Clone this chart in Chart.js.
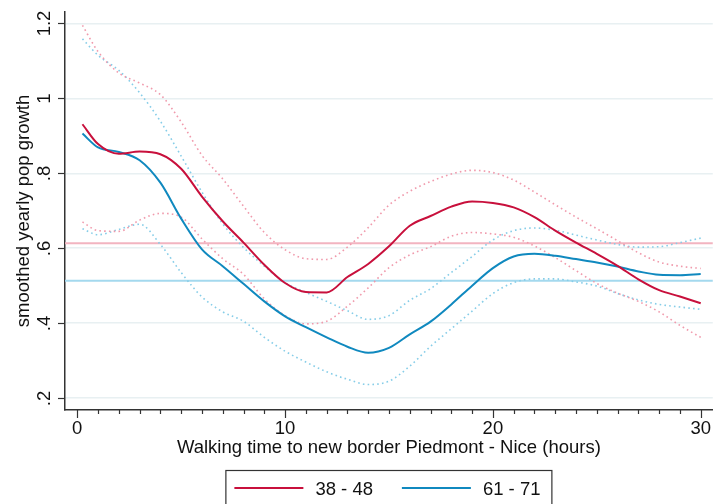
<!DOCTYPE html>
<html>
<head>
<meta charset="utf-8">
<script src="https://cdn.jsdelivr.net/npm/chart.js@4.4.1/dist/chart.umd.min.js"></script>
<style>
  body { margin: 0; background: #fff; }
  #wrap { width: 713px; height: 504px; }
</style>
</head>
<body>
<div id="wrap"><canvas id="chart"></canvas></div>
<script>
// x grid (walking time, hours)
const xs = [0.25, 1, 2, 3, 4, 5, 6, 7, 8, 9, 10, 11, 12, 13, 14, 15, 16, 17, 18, 19, 20, 21, 22, 23, 24, 25, 26, 27, 28, 29, 30];

// 38 - 48
const red = [0.931, 0.878, 0.852, 0.858, 0.851, 0.812, 0.738, 0.672, 0.615, 0.556, 0.507, 0.483, 0.482, 0.523, 0.558, 0.605, 0.660, 0.686, 0.711, 0.725, 0.721, 0.709, 0.683, 0.647, 0.615, 0.585, 0.553, 0.517, 0.488, 0.471, 0.453];
const redHi = [1.195, 1.125, 1.068, 1.041, 1.010, 0.937, 0.848, 0.785, 0.712, 0.642, 0.596, 0.572, 0.570, 0.603, 0.655, 0.715, 0.752, 0.778, 0.798, 0.808, 0.802, 0.782, 0.750, 0.716, 0.683, 0.652, 0.620, 0.588, 0.563, 0.552, 0.546];
const redLo = [0.670, 0.647, 0.645, 0.675, 0.693, 0.683, 0.625, 0.572, 0.530, 0.465, 0.420, 0.398, 0.405, 0.445, 0.494, 0.548, 0.582, 0.604, 0.632, 0.642, 0.638, 0.629, 0.606, 0.575, 0.540, 0.506, 0.480, 0.458, 0.430, 0.394, 0.362];

// 61 - 71
const blue = [0.906, 0.869, 0.857, 0.835, 0.775, 0.679, 0.597, 0.552, 0.505, 0.458, 0.418, 0.389, 0.362, 0.337, 0.321, 0.334, 0.370, 0.404, 0.450, 0.500, 0.547, 0.578, 0.585, 0.580, 0.571, 0.562, 0.551, 0.538, 0.529, 0.528, 0.531];
const blueHi = [1.159, 1.115, 1.075, 1.015, 0.939, 0.846, 0.750, 0.665, 0.602, 0.552, 0.508, 0.482, 0.458, 0.433, 0.410, 0.420, 0.461, 0.492, 0.535, 0.578, 0.622, 0.647, 0.654, 0.648, 0.635, 0.622, 0.610, 0.603, 0.604, 0.615, 0.627];
const blueLo = [0.652, 0.636, 0.650, 0.664, 0.610, 0.535, 0.470, 0.430, 0.405, 0.362, 0.325, 0.296, 0.270, 0.250, 0.236, 0.245, 0.285, 0.338, 0.385, 0.432, 0.479, 0.508, 0.518, 0.518, 0.510, 0.499, 0.479, 0.462, 0.450, 0.443, 0.437];

// mean lines for each group
const refLines = [0.613, 0.513];

const xTicks = [0, 10, 20, 30];
const yTicks = [0.2, 0.4, 0.6, 0.8, 1, 1.2];
const yTickLabels = [".2", ".4", ".6", ".8", "1", "1.2"];

const redColor = "#c8103c";
const blueColor = "#1089bf";
const redCI = "#f09aac";
const blueCI = "#86cde8";
const refColors = ["#f2b4c0", "#a4d9ee"];
const axisColor = "#333333";
const font = "'Liberation Sans', Arial, Helvetica, sans-serif";
const fontSize = 18.5;

function pts(arr) {
  return xs.map((x, i) => ({ x: x, y: arr[i] }));
}

function mainLine(label, arr, color) {
  return {
    label: label,
    data: pts(arr),
    borderColor: color,
    backgroundColor: color,
    borderWidth: 2,
    pointRadius: 0,
    cubicInterpolationMode: "monotone",
  };
}

function ciLine(arr, color) {
  return {
    label: "",
    data: pts(arr),
    borderColor: color,
    borderWidth: 1.6,
    borderDash: [1.6, 3.2],
    pointRadius: 0,
    cubicInterpolationMode: "monotone",
  };
}

// draws reference lines, tick marks, rotated y labels and the boxed legend
const stataPlugin = {
  id: "stata",
  beforeDatasetsDraw(chart) {
    const { ctx, chartArea, scales } = chart;
    ctx.save();
    refLines.forEach((v, i) => {
      const py = scales.y.getPixelForValue(v);
      ctx.strokeStyle = refColors[i];
      ctx.lineWidth = 2;
      ctx.beginPath();
      ctx.moveTo(chartArea.left, py);
      ctx.lineTo(chartArea.right, py);
      ctx.stroke();
    });
    ctx.restore();
  },
  afterDraw(chart) {
    const { ctx, chartArea, scales } = chart;
    const x = scales.x;
    const y = scales.y;
    ctx.save();
    ctx.strokeStyle = axisColor;
    ctx.lineWidth = 1.2;

    // x ticks, long at labelled values
    x.ticks.forEach((t) => {
      const px = Math.round(x.getPixelForValue(t.value)) + 0.5;
      const len = xTicks.includes(t.value) ? 8 : 4;
      ctx.beginPath();
      ctx.moveTo(px, chartArea.bottom);
      ctx.lineTo(px, chartArea.bottom + len);
      ctx.stroke();
    });

    // y ticks and rotated labels
    ctx.fillStyle = "#111";
    ctx.font = fontSize + "px " + font;
    ctx.textAlign = "center";
    ctx.textBaseline = "alphabetic";
    yTicks.forEach((v, i) => {
      const py = Math.round(y.getPixelForValue(v)) + 0.5;
      ctx.beginPath();
      ctx.moveTo(chartArea.left, py);
      ctx.lineTo(chartArea.left - 7, py);
      ctx.stroke();
      ctx.save();
      ctx.translate(50, py);
      ctx.rotate(-Math.PI / 2);
      ctx.fillText(yTickLabels[i], 0, 0);
      ctx.restore();
    });

    // legend
    const cx = (chartArea.left + chartArea.right) / 2;
    const left = cx - 163;
    const top = 470.5;
    ctx.strokeStyle = axisColor;
    ctx.lineWidth = 1.2;
    ctx.strokeRect(left, top, 326, 60);
    const entries = chart.data.datasets.slice(0, 2);
    const offs = [8.5, 176];
    entries.forEach((ds, i) => {
      const lx = left + offs[i];
      ctx.strokeStyle = ds.borderColor;
      ctx.lineWidth = 2;
      ctx.beginPath();
      ctx.moveTo(lx, 488);
      ctx.lineTo(lx + 69, 488);
      ctx.stroke();
      ctx.textAlign = "left";
      ctx.fillStyle = "#111";
      ctx.fillText(ds.label, lx + 81, 495);
    });
    ctx.restore();
  },
};

new Chart(document.getElementById("chart"), {
  type: "line",
  data: {
    datasets: [
      mainLine("38 - 48", red, redColor),
      mainLine("61 - 71", blue, blueColor),
      ciLine(redHi, redCI),
      ciLine(redLo, redCI),
      ciLine(blueHi, blueCI),
      ciLine(blueLo, blueCI),
    ],
  },
  options: {
    responsive: true,
    maintainAspectRatio: false,
    animation: false,
    devicePixelRatio: 1,
    layout: { padding: { top: 12, left: 0, right: 0, bottom: 0 } },
    plugins: {
      legend: { display: false },
      tooltip: { enabled: false },
    },
    scales: {
      x: {
        type: "linear",
        min: -0.59,
        max: 30.58,
        afterBuildTicks: (scale) => {
          const t = [];
          for (let v = 0; v <= 30; v++) t.push({ value: v });
          scale.ticks = t;
        },
        afterFit: (scale) => {
          scale.height = 94;
        },
        grid: {
          drawOnChartArea: false,
          drawTicks: true,
          tickLength: 6,
          tickColor: "rgba(0,0,0,0)",
        },
        border: { color: axisColor, width: 1.5 },
        ticks: {
          autoSkip: false,
          maxRotation: 0,
          padding: 2,
          color: "#111",
          font: { family: font, size: fontSize },
          callback: (v) => (xTicks.includes(v) ? String(v) : ""),
        },
        title: {
          display: true,
          text: "Walking time to new border Piedmont - Nice (hours)",
          color: "#111",
          font: { family: font, size: fontSize },
          padding: { top: 0, bottom: 45 },
        },
      },
      y: {
        min: 0.168,
        max: 1.2307,
        afterBuildTicks: (scale) => {
          scale.ticks = yTicks.map((v) => ({ value: v }));
        },
        afterFit: (scale) => {
          scale.width = 65;
        },
        grid: {
          color: "#e8f0f2",
          lineWidth: 1.5,
          drawTicks: false,
        },
        border: { color: axisColor, width: 1.5 },
        ticks: { display: false },
        title: {
          display: true,
          text: "smoothed yearly pop growth",
          color: "#111",
          font: { family: font, size: fontSize },
          padding: { top: 12.5, bottom: 0 },
        },
      },
    },
  },
  plugins: [stataPlugin],
});
</script>
</body>
</html>
